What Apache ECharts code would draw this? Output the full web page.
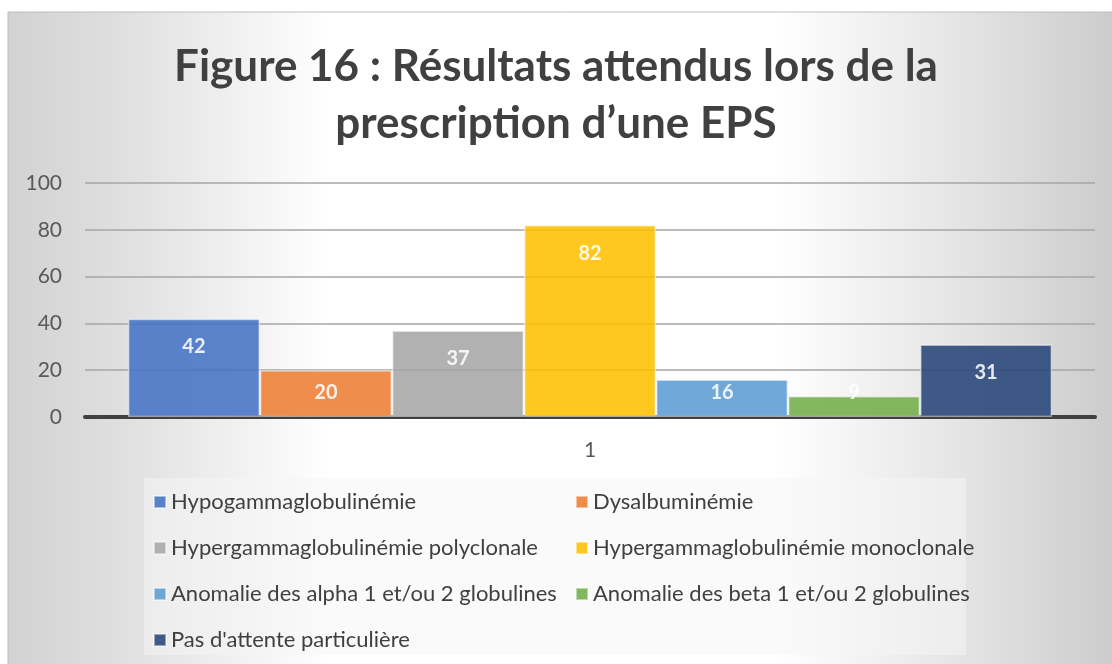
<!DOCTYPE html>
<html>
<head>
<meta charset="utf-8">
<script src="https://cdn.jsdelivr.net/npm/echarts@6/dist/echarts.min.js"></script>
<style>
  html, body { margin: 0; padding: 0; background: #ffffff; }
  #main { width: 1112px; height: 664px; }
</style>
</head>
<body>
<div id="main"></div>
<script>
// data
var categories = ['1'];
var seriesNames = [
  'Hypogammaglobulinémie',
  'Dysalbuminémie',
  'Hypergammaglobulinémie polyclonale',
  'Hypergammaglobulinémie monoclonale',
  'Anomalie des alpha 1 et/ou 2 globulines',
  'Anomalie des beta 1 et/ou 2 globulines',
  "Pas d'attente particulière"
];
var values = [42, 20, 37, 82, 16, 9, 31];
var yTicks = { min: 0, max: 100, interval: 20 };

var colors = ['#4472C4', '#ED7D31', '#A5A5A5', '#FFC000', '#5B9BD5', '#70AD47', '#264478'];
var fontMain = 'Lato, "Open Sans", sans-serif';

function draw_chart() {
  var dom = document.getElementById('main');
  var myChart = echarts.init(dom, null, { renderer: 'canvas' });

  var series = seriesNames.map(function (name, i) {
    var v = values[i];
    return {
      name: name,
      type: 'bar',
      barGap: '0%',
      barCategoryGap: '8.5%',
      data: [v],
      itemStyle: {
        color: colors[i],
        opacity: 0.87,
        borderColor: 'rgba(255,255,255,0.55)',
        borderWidth: 1.5
      },
      label: {
        show: true,
        // short bars: Excel pushes the label down from the top
        position: v < 23 ? 'insideBottom' : 'insideTop',
        distance: v < 23 ? 14 : 18,
        color: '#ffffff',
        fontFamily: fontMain,
        fontWeight: 'bold',
        fontSize: 20
      }
    };
  });

  var legendText = { color: '#404040', fontSize: 22, fontFamily: fontMain, lineHeight: 22 };

  var option = {
    animation: false,
    color: colors,
    title: {
      text: 'Figure 16 : Résultats attendus lors de la\nprescription d\u2019une EPS',
      left: 'center',
      top: 33,
      textStyle: {
        color: '#404040',
        fontFamily: fontMain,
        fontWeight: 'bold',
        fontSize: 44,
        lineHeight: 57
      }
    },
    graphic: [
      {
        type: 'rect',
        z: -20,
        silent: true,
        shape: { x: 8, y: 12, width: 1110, height: 660 },
        style: {
          fill: {
            type: 'linear', x: 0, y: 0, x2: 1, y2: 0,
            colorStops: [
              { offset: 0, color: '#d2d2d2' },
              { offset: 0.1, color: '#dfdfdf' },
              { offset: 0.25, color: '#f8f8f8' },
              { offset: 0.29, color: '#ffffff' },
              { offset: 0.69, color: '#ffffff' },
              { offset: 0.86, color: '#e4e4e4' },
              { offset: 1, color: '#cbcbcb' }
            ]
          },
          stroke: '#bdbdbd',
          lineWidth: 1
        }
      },
      {
        type: 'rect',
        z: -10,
        silent: true,
        shape: { x: 144, y: 478, width: 822, height: 177 },
        style: { fill: 'rgba(245,245,245,0.5)' }
      }
    ],
    legend: [
      {
        orient: 'vertical',
        left: 148,
        top: 486,
        itemWidth: 12,
        itemHeight: 12,
        itemGap: 24,
        icon: 'rect',
        data: [seriesNames[0], seriesNames[2], seriesNames[4], seriesNames[6]],
        textStyle: legendText
      },
      {
        orient: 'vertical',
        left: 570,
        top: 486,
        itemWidth: 12,
        itemHeight: 12,
        itemGap: 24,
        icon: 'rect',
        data: [seriesNames[1], seriesNames[3], seriesNames[5]],
        textStyle: legendText
      }
    ],
    grid: {
      left: 85,
      right: 17,
      top: 183,
      bottom: 247
    },
    xAxis: {
      type: 'category',
      data: categories,
      axisTick: { show: false },
      axisLine: { lineStyle: { color: '#404040', width: 4 } },
      axisLabel: { color: '#595959', fontSize: 21, fontFamily: fontMain, margin: 23 }
    },
    yAxis: {
      type: 'value',
      min: yTicks.min,
      max: yTicks.max,
      interval: yTicks.interval,
      axisLine: { show: false },
      axisTick: { show: false },
      axisLabel: { color: '#595959', fontSize: 21, fontFamily: fontMain, margin: 23 },
      splitLine: { lineStyle: { color: '#a6a6a6', width: 1.5 } }
    },
    series: series
  };

  myChart.setOption(option);
  window.onresize = myChart.resize;
}

draw_chart();
</script>
</body>
</html>
